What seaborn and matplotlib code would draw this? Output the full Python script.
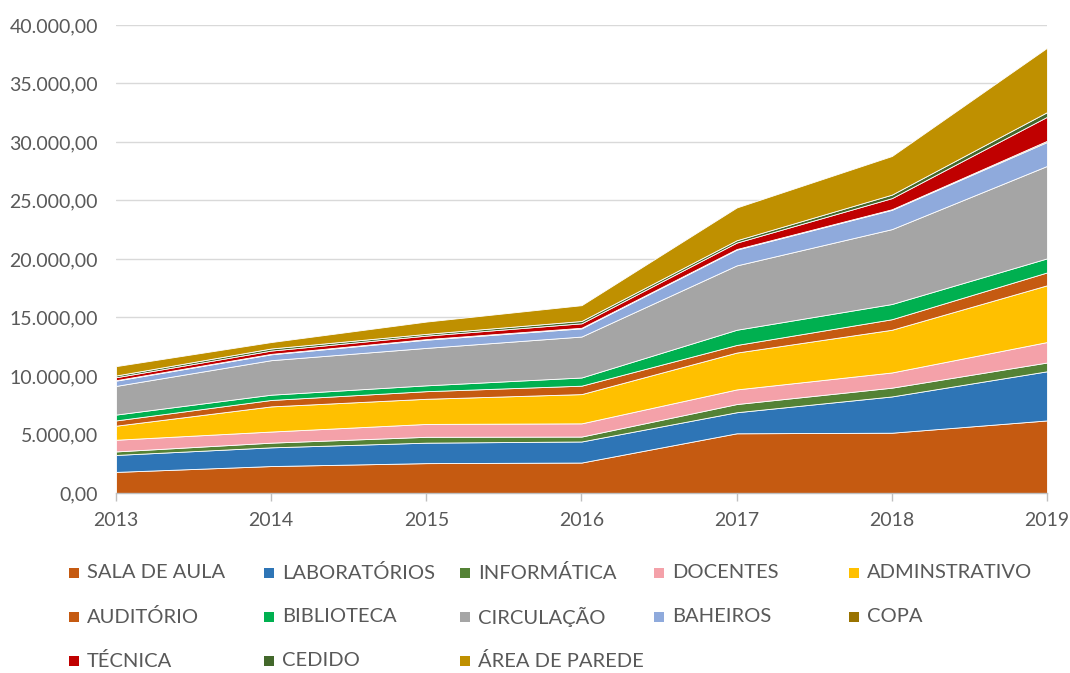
import matplotlib
matplotlib.use("Agg")
import matplotlib.pyplot as plt
import seaborn as sns
import pandas as pd
from matplotlib.patches import Rectangle
from matplotlib.ticker import FuncFormatter

years = [2013, 2014, 2015, 2016, 2017, 2018, 2019]

# area per category (m²), bottom to top of the stack
sala_de_aula = [1800, 2300, 2550, 2600, 5100, 5150, 6200]
laboratorios = [1450, 1600, 1750, 1800, 1800, 3100, 4200]
informatica = [300, 400, 500, 420, 700, 750, 750]
docentes = [1000, 950, 1100, 1130, 1250, 1300, 1750]
administrativo = [1200, 2150, 2150, 2500, 3150, 3650, 4850]
auditorio = [450, 550, 650, 720, 650, 900, 1100]
biblioteca = [500, 450, 500, 700, 1300, 1300, 1200]
circulacao = [2450, 2950, 3200, 3500, 5500, 6400, 7900]
baheiros = [450, 500, 700, 700, 1350, 1650, 2050]
copa = [40, 40, 50, 50, 50, 50, 100]
tecnica = [250, 280, 300, 380, 550, 950, 2050]
cedido = [150, 180, 150, 200, 200, 300, 400]
area_de_parede = [800, 550, 1050, 1350, 2800, 3300, 5500]

labels = ["SALA DE AULA", "LABORATÓRIOS", "INFORMÁTICA", "DOCENTES", "ADMINSTRATIVO",
          "AUDITÓRIO", "BIBLIOTECA", "CIRCULAÇÃO", "BAHEIROS", "COPA",
          "TÉCNICA", "CEDIDO", "ÁREA DE PAREDE"]
colors = ["#C55A11", "#2E75B6", "#548235", "#F4A1A9", "#FFC000",
          "#C55A11", "#00B050", "#A5A5A5", "#8FAADC", "#997300",
          "#C00000", "#43682B", "#BF9000"]

df = pd.DataFrame({
    "SALA DE AULA": sala_de_aula, "LABORATÓRIOS": laboratorios,
    "INFORMÁTICA": informatica, "DOCENTES": docentes,
    "ADMINSTRATIVO": administrativo, "AUDITÓRIO": auditorio,
    "BIBLIOTECA": biblioteca, "CIRCULAÇÃO": circulacao,
    "BAHEIROS": baheiros, "COPA": copa, "TÉCNICA": tecnica,
    "CEDIDO": cedido, "ÁREA DE PAREDE": area_de_parede,
}, index=years)

sns.set_theme(style="white")
plt.rcParams["font.family"] = ["Lato", "DejaVu Sans"]

text_color = "#595959"
fig = plt.figure(figsize=(10.70, 6.73), dpi=100)
ax = fig.add_axes([0.1084, 0.2675, 0.8701, 0.6954])

ax.stackplot(df.index, *[df[c] for c in labels], colors=colors,
             labels=labels, linewidth=0.6, edgecolor="white", zorder=2)

ax.set_xlim(years[0], years[-1])
ax.set_ylim(0, 40000)
ax.set_yticks(range(0, 40001, 5000))
ax.set_xticks(years)
ax.yaxis.set_major_formatter(FuncFormatter(
    lambda v, p: f"{v:,.2f}".replace(",", "X").replace(".", ",").replace("X", ".")))
ax.grid(axis="y", color="#D9D9D9", linewidth=1, zorder=0)
ax.set_axisbelow(True)
for s in ["left", "right", "top"]:
    ax.spines[s].set_visible(False)
ax.spines["bottom"].set_color("#BFBFBF")
ax.spines["bottom"].set_linewidth(1)
ax.tick_params(axis="x", direction="out", length=6, color="#BFBFBF", width=1,
               labelsize=14, labelcolor=text_color, pad=8, bottom=True)
ax.tick_params(axis="y", length=0, labelsize=14, labelcolor=text_color, pad=13)

# legend laid out in equal-width columns, row by row
col_x = [69, 264, 460, 654, 849]
row_y = [573, 617, 661]
W, H = 1070, 673
for i, (lab, col) in enumerate(zip(labels, colors)):
    r, c = divmod(i, 5)
    x0 = col_x[c] / W
    y0 = 1 - row_y[r] / H
    fig.add_artist(Rectangle((x0, y0 - 5 / H), 10 / W, 10 / H,
                             transform=fig.transFigure, facecolor=col,
                             edgecolor="none"))
    fig.text(x0 + 18 / W, y0, lab, fontsize=14.5, color=text_color,
             va="center", ha="left")

fig.savefig("out.png", dpi=100)
